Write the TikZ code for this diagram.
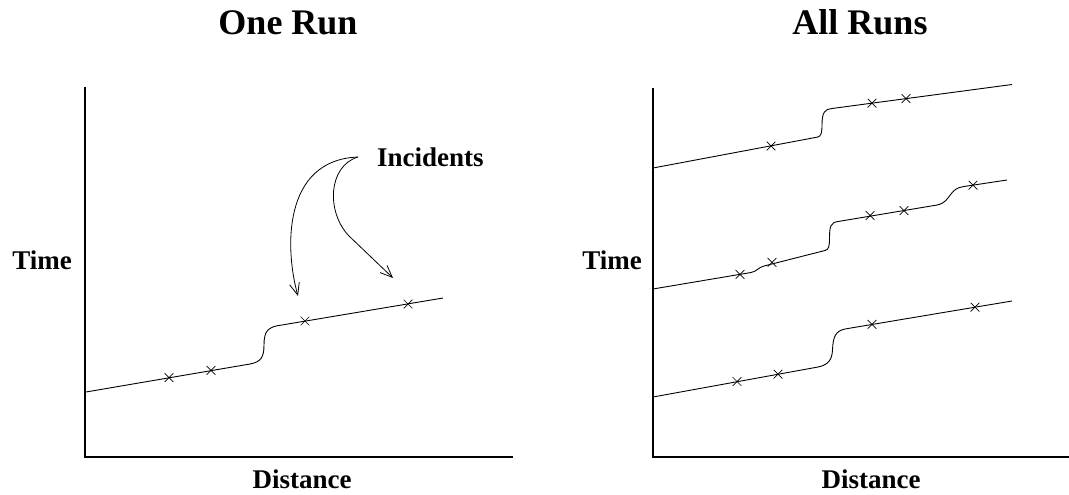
\documentclass[tikz,border=0pt]{standalone}
\usepackage{fontspec}
\setmainfont{Liberation Serif}
\usetikzlibrary{shapes.misc,arrows.meta}
\tikzset{
  axisline/.style={line width=2pt, line cap=rect},
  runline/.style={line width=0.9pt},
  xmark/.style={cross out, draw, minimum size=8pt, inner sep=0pt, line width=0.7pt},
  pointer/.style={line width=0.8pt, -{Straight Barb[length=12pt,width=10pt,line width=0.8pt]}},
  title/.style={font=\bfseries\fontsize{36}{40}\selectfont, anchor=base, inner sep=0pt},
  label/.style={font=\bfseries\fontsize{27}{30}\selectfont, anchor=base, inner sep=0pt}
}
\begin{document}
\begin{tikzpicture}[x=1pt,y=-1pt]
\useasboundingbox (0,0) rectangle (1069,495);
% titles
\node[title] (t1) at (288,35) {One Run};
\node[title] (t2) at (860,35) {All Runs};
% axis labels
\node[label] (time1) at (42,269) {Time};
\node[label] (time2) at (612,269) {Time};
\node[label] (dist1) at (302,488) {Distance};
\node[label] (dist2) at (871,488) {Distance};
\node[label, anchor=base west] (inc) at (377,166) {Incidents};
% axes
\coordinate (o1) at (85,457);
\coordinate (y1) at (85,88);
\coordinate (x1) at (512,457);
\coordinate (o2) at (653,457);
\coordinate (y2) at (653,88);
\coordinate (x2) at (1069,457);
\draw[axisline] (y1) -- (o1) -- (x1);
\draw[axisline, line cap=butt] (y2) -- (o2) -- (x2);
% left run
\draw[runline] (86,392) -- (250,364) .. controls (261,362) and (264,357) .. (264,345)
  .. controls (264,331) and (268,326.5) .. (282,325) -- (443,298);
\node[xmark] (l1) at (169,377.6) {};
\node[xmark] (l2) at (211,370.4) {};
\node[xmark] (l3) at (305,321) {};
\node[xmark] (l4) at (408,304) {};
% arrows
\coordinate (incA) at (358,157);
\coordinate (tipA) at (298,296);
\coordinate (tipB) at (393,278);
\draw[pointer] (incA) .. controls (282,160) and (285,250) .. (tipA);
\draw[pointer] (incA) .. controls (328,166) and (326,212) .. (349,236) -- (tipB);
% right top run
\draw[runline] (653,168) -- (818,137) .. controls (821,136) and (822,133) .. (822,125)
  .. controls (822,112) and (825,109) .. (832,108.5) -- (1012,84.5);
\node[xmark] (a1) at (771,146) {};
\node[xmark] (a2) at (872,103.2) {};
\node[xmark] (a3) at (906,98.6) {};
% right middle run
\draw[runline] (653,289) -- (751,272.5) .. controls (757,271.5) and (758,267.5) .. (764,266)
  -- (825,250.5) .. controls (829,249.5) and (829.5,246) .. (829.5,238)
  .. controls (829.5,226) and (831,222.5) .. (838,221.5) -- (937,205)
  .. controls (945,203.5) and (947,199) .. (951,194)
  .. controls (954,190) and (957,187.5) .. (964,186.5) -- (1007,180);
\node[xmark] (b1) at (740,274.3) {};
\node[xmark] (b2) at (772,262.3) {};
\node[xmark] (b3) at (870,215.5) {};
\node[xmark] (b4) at (904,210.6) {};
\node[xmark] (b5) at (973,185.2) {};
% right bottom run
\draw[runline] (653,397) -- (818,367) .. controls (828,365) and (832,360) .. (832.5,350)
  .. controls (833,336) and (836,331) .. (845,329) -- (1012,301);
\node[xmark] (c1) at (737,381.5) {};
\node[xmark] (c2) at (778,374.2) {};
\node[xmark] (c3) at (872,324.3) {};
\node[xmark] (c4) at (975,307.2) {};
\end{tikzpicture}
\end{document}
